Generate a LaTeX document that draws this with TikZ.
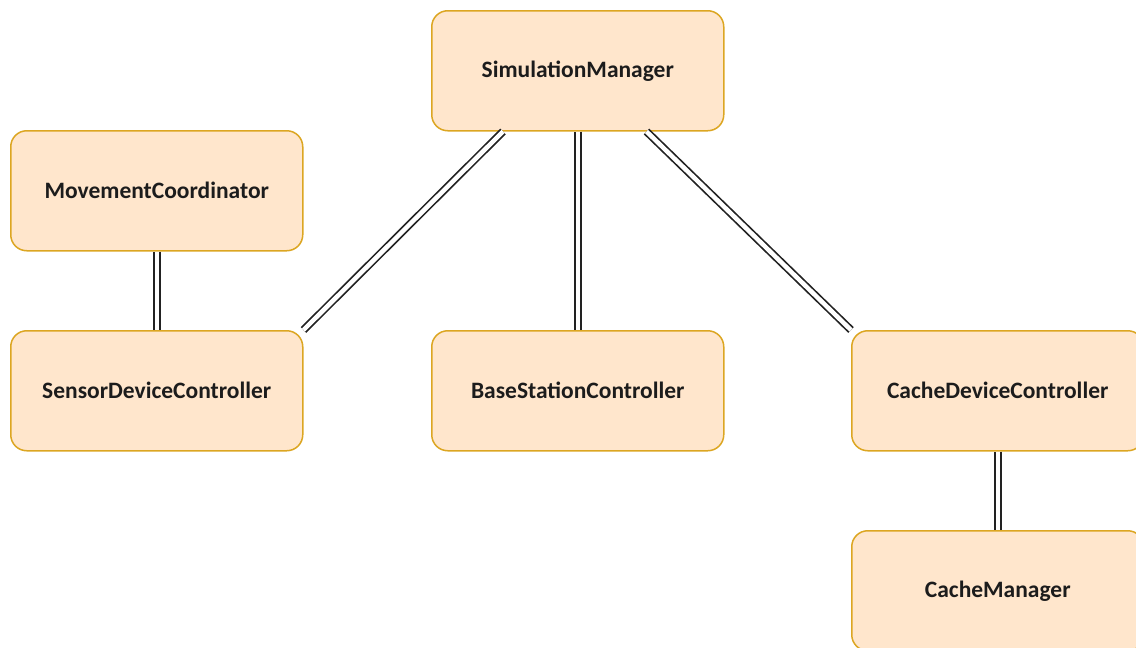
\documentclass[tikz,border=0pt]{standalone}
\usepackage{fontspec}
\setmainfont{Carlito}
\definecolor{boxfill}{HTML}{FFE6CC}
\definecolor{boxline}{HTML}{DCA622}
\definecolor{linec}{HTML}{222222}
\definecolor{textc}{HTML}{1C1C1C}
\begin{document}
\begin{tikzpicture}[x=1pt,y=-1pt,
  cls/.style={draw=boxline, fill=boxfill, line width=1.5pt, rounded corners=16pt,
    minimum width=292pt, minimum height=120pt, inner sep=0pt, anchor=north west,
    font=\fontsize{23.5}{28}\selectfont\bfseries, text=textc},
  link/.style={draw=linec, line width=1.7pt, double=white, double distance=4.5pt}]
\path[use as bounding box] (0,0) rectangle (1136,648);
\clip (0,0) rectangle (1136,648);

% classes
\node[cls] (sim)    at (431,10)  {SimulationManager};
\node[cls] (move)   at (10,130)  {MovementCoordinator};
\node[cls] (sensor) at (10,330)  {SensorDeviceController};
\node[cls] (base)   at (431,330) {BaseStationController};
\node[cls] (cdev)   at (851,330) {CacheDeviceController};
\node[cls] (cman)   at (851,530) {CacheManager};

% associations
\draw[link] ([xshift=72pt]sim.south west) -- (sensor.north east);
\draw[link] (sim.south) -- (base.north);
\draw[link] ([xshift=-78pt]sim.south east) -- (cdev.north west);
\draw[link] (move.south) -- (sensor.north);
\draw[link] (cdev.south) -- (cman.north);
\end{tikzpicture}
\end{document}
